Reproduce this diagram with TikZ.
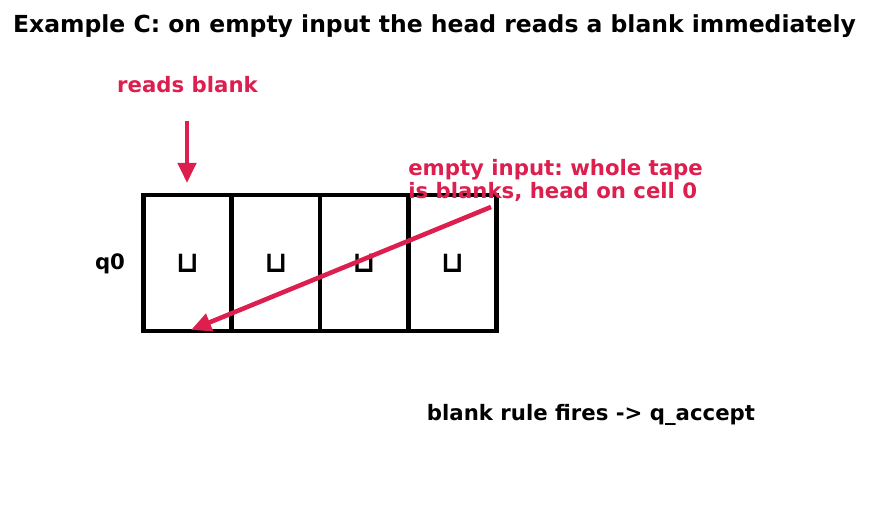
\documentclass[tikz,border=0pt]{standalone}
\usepackage{fontspec}
\setmainfont{DejaVu Sans}
\usetikzlibrary{arrows.meta}
\definecolor{hl}{HTML}{DC1F4E}
\frenchspacing
\begin{document}
\begin{tikzpicture}[x=0.72pt,y=-0.72pt,
  cell/.style={draw=black,line width=2.9pt,minimum width=88*0.72pt,minimum height=136*0.72pt,inner sep=0pt,
    font=\fontsize{21}{23}\selectfont\bfseries},
  lab/.style={font=\fontsize{15.3}{17}\selectfont\bfseries,inner sep=0pt},
  redlab/.style={lab,text=hl},
  redarrow/.style={draw=hl,line width=3.3pt,-{Triangle[length=14.5pt,width=13pt]}}]
\useasboundingbox (0,0) rectangle (869,510);
\node[lab,font=\fontsize{16.9}{19}\selectfont\bfseries,anchor=base] (title) at (434.5,32) {Example C: on empty input the head reads a blank immediately};
\node[cell] (c0) at (187.5,263) {⊔};
\node[cell] (c1) at (276,263) {⊔};
\node[cell] (c2) at (364,263) {⊔};
\node[cell] (c3) at (452.5,263) {⊔};
\node[lab] (q) at (110,264) {q0};
\node[redlab,anchor=base] (rb) at (187.5,92) {reads blank};
\node[redlab,align=left,anchor=north west,font=\fontsize{15.3}{16.6}\selectfont\bfseries] (ei) at (408,159) {empty input: whole tape\\is blanks, head on cell 0};
\node[lab,anchor=base] (fire) at (591,420) {blank rule fires -> q\_accept};
\coordinate (a1s) at (187,121);
\coordinate (a1e) at (187,183);
\coordinate (a2s) at (491,207);
\coordinate (a2e) at (191,330);
\draw[redarrow] (a1s) -- (a1e);
\draw[redarrow] (a2s) -- (a2e);
\end{tikzpicture}
\end{document}
